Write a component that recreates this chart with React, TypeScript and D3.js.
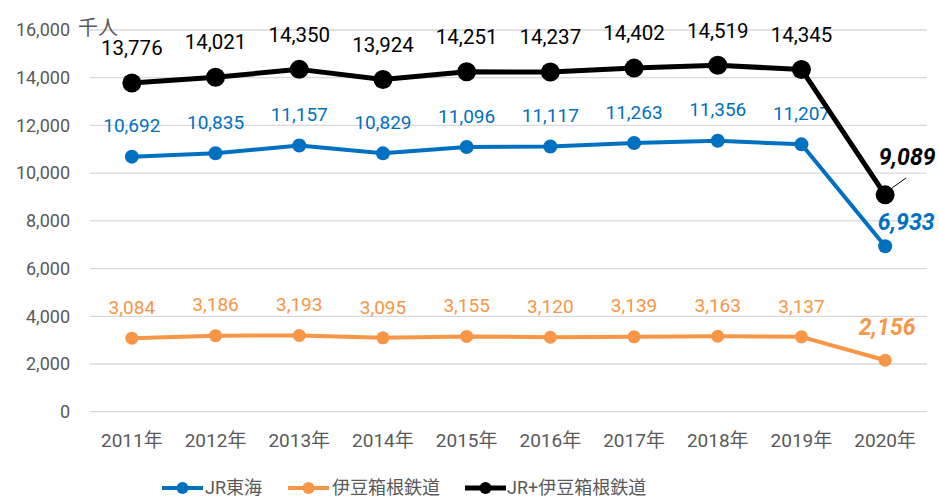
import React from "react";
import * as d3 from "d3";

const years = ["2011年","2012年","2013年","2014年","2015年","2016年","2017年","2018年","2019年","2020年"];
const jrValues = [10692,10835,11157,10829,11096,11117,11263,11356,11207,6933];
const izuValues = [3084,3186,3193,3095,3155,3120,3139,3163,3137,2156];
const totalValues = [13776,14021,14350,13924,14251,14237,14402,14519,14345,9089];
const yTicks = [0,2000,4000,6000,8000,10000,12000,14000,16000];
const seriesNames = ["JR東海","伊豆箱根鉄道","JR+伊豆箱根鉄道"];

const FONT = "Roboto, 'Noto Sans CJK JP', sans-serif";
const GRAY = "#595959";

export default function App() {
  const W = 939, H = 500;
  const x = d3.scaleBand<string>().domain(years).range([90, 927]);
  const cx = (i: number) => (x(years[i]) as number) + x.bandwidth() / 2;
  const y = d3.scaleLinear().domain([0, 16000]).range([411.7, 30]);
  const fmt = d3.format(",");
  const line = d3.line<number>().x((_, i) => cx(i)).y((d) => y(d));

  const series = [
    { name: seriesNames[0], values: jrValues, color: "#0070C0", lw: 4, r: 7, labelColor: "#0070C0", off: 31, fs: 19 },
    { name: seriesNames[1], values: izuValues, color: "#F79646", lw: 4, r: 6.5, labelColor: "#F79646", off: 31, fs: 19 },
    { name: seriesNames[2], values: totalValues, color: "#000000", lw: 5, r: 9.5, labelColor: "#000000", off: 35, fs: 20.5 },
  ];
  const lastOffsets = [
    { dx: 21, dy: -24 },
    { dx: 2, dy: -33 },
    { dx: 22, dy: -38 },
  ];
  const last = years.length - 1;

  const legendItems = [
    { x: 162, textX: 205 },
    { x: 288, textX: 332 },
    { x: 465, textX: 507 },
  ];
  const legendY = 488;

  return (
    <svg width={W} height={H} style={{ display: "block", position: "absolute", left: 0, top: 0 }} fontFamily={FONT}>
      <rect width={W} height={H} fill="#fff" />
      {yTicks.map((t) => (
        <g key={t}>
          <line x1={90} x2={927} y1={y(t)} y2={y(t)} stroke="#d9d9d9" strokeWidth={1.3} />
          <text x={70} y={y(t)} dy="0.35em" textAnchor="end" fontSize={18} fill={GRAY}>{fmt(t)}</text>
        </g>
      ))}
      <text x={78} y={28} dy="0.35em" fontSize={20} fill={GRAY}>千人</text>
      {years.map((yr, i) => (
        <text key={yr} x={cx(i)} y={440} dy="0.35em" textAnchor="middle" fontSize={19} fill={GRAY}>{yr}</text>
      ))}
      {series.map((s, si) => (
        <g key={s.name}>
          <path d={line(s.values) as string} fill="none" stroke={s.color} strokeWidth={s.lw} strokeLinejoin="round" />
          {s.values.map((v, i) => (
            <circle key={i} cx={cx(i)} cy={y(v)} r={s.r} fill={s.color} />
          ))}
          {s.values.map((v, i) =>
            i < last ? (
              <text key={"l" + i} x={cx(i)} y={y(v) - s.off} dy="0.35em" textAnchor="middle" fontSize={s.fs} fill={s.labelColor}>{fmt(v)}</text>
            ) : (
              <text key={"l" + i} x={cx(i) + lastOffsets[si].dx} y={y(v) + lastOffsets[si].dy} dy="0.35em" textAnchor="middle" fontSize={23} fontWeight="bold" fontStyle="italic" fill={s.labelColor}>{fmt(v)}</text>
            )
          )}
        </g>
      ))}
      <line x1={cx(last) + 7} y1={y(totalValues[last]) - 7} x2={cx(last) + 21} y2={y(totalValues[last]) - 17} stroke="#000" strokeWidth={1} />
      {series.map((s, si) => (
        <g key={"lg" + si}>
          <line x1={legendItems[si].x} x2={legendItems[si].x + 41} y1={legendY} y2={legendY} stroke={s.color} strokeWidth={s.lw} />
          <circle cx={legendItems[si].x + 20.5} cy={legendY} r={6} fill={s.color} />
          <text x={legendItems[si].textX} y={legendY} dy="0.35em" fontSize={18} fill={GRAY}>{s.name}</text>
        </g>
      ))}
    </svg>
  );
}
